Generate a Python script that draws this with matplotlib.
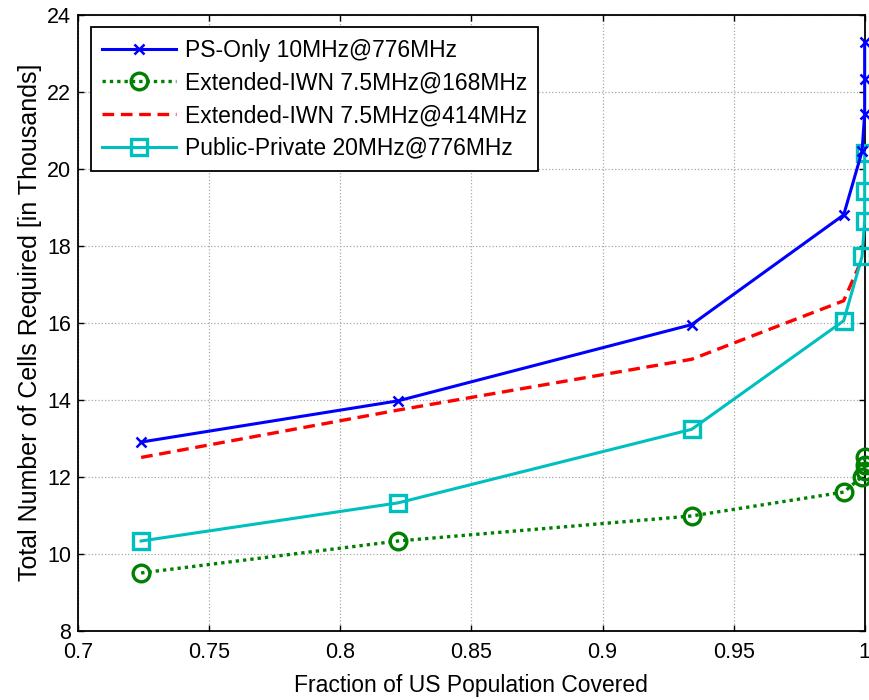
import numpy as np
import matplotlib
matplotlib.use("Agg")
import matplotlib.pyplot as plt

plt.rcParams["font.family"] = ["Liberation Sans", "DejaVu Sans"]

# Data (y in thousands of cells)
ps_only_x = [0.724, 0.822, 0.934, 0.992, 0.999, 1.0, 1.0, 1.0]
ps_only_y = [12.9, 13.97, 15.95, 18.8, 20.45, 21.43, 22.32, 23.28]

iwn168_x = [0.724, 0.822, 0.934, 0.992, 0.999, 1.0, 1.0, 1.0]
iwn168_y = [9.5, 10.33, 10.98, 11.6, 12.0, 12.15, 12.3, 12.5]

iwn414_x = [0.724, 0.822, 0.934, 0.992, 0.999]
iwn414_y = [12.5, 13.73, 15.05, 16.57, 17.65]

pubpriv_x = [0.724, 0.822, 0.934, 0.992, 0.999, 1.0, 1.0, 1.0]
pubpriv_y = [10.33, 11.32, 13.23, 16.05, 17.72, 18.63, 19.42, 20.41]

x_ticks = [0.7, 0.75, 0.8, 0.85, 0.9, 0.95, 1.0]
x_tick_labels = ["0.7", "0.75", "0.8", "0.85", "0.9", "0.95", "1"]
y_ticks = [8, 10, 12, 14, 16, 18, 20, 22, 24]


def main() -> None:
    fig = plt.figure(figsize=(8.69, 7.0), dpi=100)
    ax = fig.add_axes([0.090, 0.099, 0.905, 0.880])

    ax.plot(ps_only_x, ps_only_y, color="#0000ff", lw=2.2, marker="x",
            ms=6.5, mew=1.8, label="PS-Only 10MHz@776MHz", clip_on=False, zorder=5)
    ax.plot(iwn168_x, iwn168_y, color="#008000", lw=2.4, ls=(0, (1, 1.2)),
            marker="o", ms=12, mew=2.4, mfc="none",
            label="Extended-IWN 7.5MHz@168MHz", clip_on=False, zorder=4)
    ax.plot(iwn414_x, iwn414_y, color="#ff0000", lw=2.4, ls=(0, (3.5, 2)),
            label="Extended-IWN 7.5MHz@414MHz", clip_on=False, zorder=3)
    ax.plot(pubpriv_x, pubpriv_y, color="#00bfbf", lw=2.2, marker="s",
            ms=12, mew=2.4, mfc="none",
            label="Public-Private 20MHz@776MHz", clip_on=False, zorder=4)

    ax.set_xlim(0.7, 1.0)
    ax.set_ylim(8, 24)
    ax.set_xticks(x_ticks)
    ax.set_xticklabels(x_tick_labels)
    ax.set_yticks(y_ticks)

    ax.grid(True, color="#a8a8a8", ls=":", lw=0.9)
    ax.tick_params(direction="in", length=4, labelsize=15.5, top=True, right=True,
                   width=1.0)
    ax.tick_params(axis="x", pad=8)
    ax.tick_params(axis="y", pad=5)
    for spine in ax.spines.values():
        spine.set_linewidth(1.3)

    ax.set_xlabel("Fraction of US Population Covered", fontsize=16.5, labelpad=8)
    ax.set_ylabel("Total Number of Cells Required [in Thousands]", fontsize=18,
                  labelpad=4)

    leg = ax.legend(loc="upper left", fontsize=16.5, frameon=True, fancybox=False,
                    edgecolor="black", framealpha=1, handlelength=3.2,
                    handletextpad=0.4, borderaxespad=0.55, labelspacing=0.42,
                    borderpad=0.5)
    leg.get_frame().set_linewidth(1.3)

    fig.savefig("out.png", dpi=100)
    plt.close(fig)


if __name__ == "__main__":
    main()
